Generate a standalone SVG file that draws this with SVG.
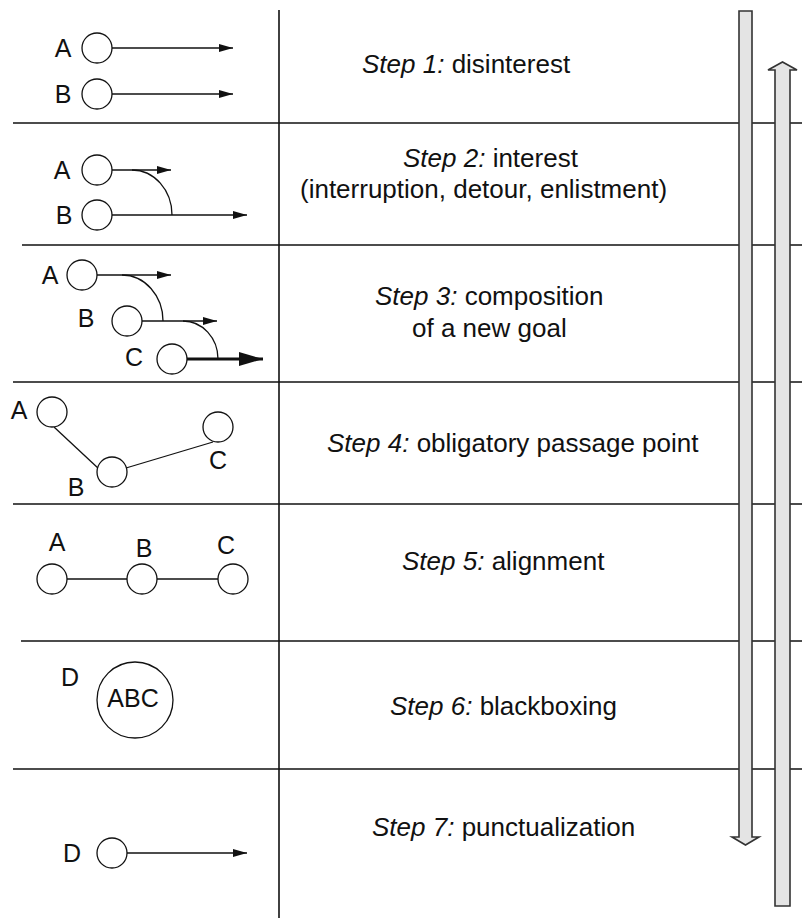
<svg xmlns="http://www.w3.org/2000/svg" width="802" height="918" viewBox="0 0 802 918">
<style>
.rule{stroke:#111;stroke-width:1.6;fill:none}
.ln{stroke:#111;stroke-width:1.3;fill:none}
.arrow{stroke:#111;stroke-width:1.3;fill:none;marker-end:url(#ah)}
.thick{stroke:#111;stroke-width:3;fill:none;marker-end:url(#ahBig)}
.node{fill:#fff;stroke:#111;stroke-width:1.3}
.lbl{font-family:"Liberation Sans",Arial,sans-serif;font-size:25px;fill:#111;text-anchor:middle}
.step{font-family:"Liberation Sans",Arial,sans-serif;font-size:26px;fill:#111}
.it{font-style:italic}
.bar{fill:#e4e4e4;stroke:#333;stroke-width:1.6}
</style>
<defs>
<marker id="ah" markerUnits="userSpaceOnUse" markerWidth="14" markerHeight="8" refX="14" refY="4" orient="auto">
<path d="M0,0 L14,4 L0,8 z" fill="#111"/>
</marker>
<marker id="ahBig" markerUnits="userSpaceOnUse" markerWidth="24" markerHeight="14" refX="24" refY="7" orient="auto">
<path d="M0,0 L24,7 L0,14 z" fill="#111"/>
</marker>
</defs>
<rect width="802" height="918" fill="#fff"/>
<g id="grid">
<line class="rule" x1="279" y1="10" x2="279" y2="918"/>
<line class="rule" x1="13" y1="123" x2="802" y2="123"/>
<line class="rule" x1="22" y1="245" x2="802" y2="245"/>
<line class="rule" x1="13" y1="382" x2="802" y2="382"/>
<line class="rule" x1="13" y1="504" x2="802" y2="504"/>
<line class="rule" x1="21" y1="641" x2="802" y2="641"/>
<line class="rule" x1="13" y1="769" x2="802" y2="769"/>
</g>
<g id="bars">
<path class="bar" d="M739,11 H752 V837 H759 L745.5,845 L732,837 H739 Z"/>
<path class="bar" d="M775,906 V70 H768 L782.5,62 L797,70 H790 V906 Z"/>
</g>
<g id="connectors">
<line class="arrow" x1="112" y1="48" x2="233" y2="48"/>
<line class="arrow" x1="112" y1="94" x2="233" y2="94"/>
<line class="arrow" x1="112" y1="170" x2="171" y2="170"/>
<line class="arrow" x1="112" y1="215" x2="247" y2="215"/>
<path class="ln" d="M132,170 A40,45 0 0 1 172,215"/>
<line class="arrow" x1="97" y1="275" x2="171" y2="275"/>
<path class="ln" d="M122,275 A41,46 0 0 1 163,321"/>
<line class="arrow" x1="142" y1="321" x2="217" y2="321"/>
<path class="ln" d="M183,321 A35,38 0 0 1 218,359"/>
<line class="thick" x1="187" y1="359" x2="263" y2="359"/>
<line class="ln" x1="54" y1="427" x2="99" y2="469"/>
<line class="ln" x1="126" y1="468" x2="213" y2="442"/>
<line class="ln" x1="67" y1="579" x2="127" y2="579"/>
<line class="ln" x1="157" y1="579" x2="218" y2="579"/>
<line class="arrow" x1="127" y1="853" x2="247" y2="853"/>
</g>
<g id="step1">
<circle class="node" cx="97" cy="48" r="15"/>
<circle class="node" cx="97" cy="94" r="15"/>
<text class="lbl" x="63" y="57">A</text>
<text class="lbl" x="63" y="103">B</text>
<text class="step" x="362" y="73"><tspan class="it">Step 1:</tspan> disinterest</text>
</g>
<g id="step2">
<circle class="node" cx="97" cy="170" r="15"/>
<circle class="node" cx="97" cy="215" r="15"/>
<text class="lbl" x="62" y="179">A</text>
<text class="lbl" x="64" y="224">B</text>
<text class="step" x="403" y="167"><tspan class="it">Step 2:</tspan> interest</text>
<text class="step" x="300" y="198">(interruption, detour, enlistment)</text>
</g>
<g id="step3">
<circle class="node" cx="82" cy="275" r="15"/>
<circle class="node" cx="127" cy="321" r="15"/>
<circle class="node" cx="172" cy="359" r="15"/>
<text class="lbl" x="50" y="284">A</text>
<text class="lbl" x="86" y="327">B</text>
<text class="lbl" x="134" y="366">C</text>
<text class="step" x="375" y="305"><tspan class="it">Step 3:</tspan> composition</text>
<text class="step" x="412" y="337">of a new goal</text>
</g>
<g id="step4">
<circle class="node" cx="52" cy="412" r="15"/>
<circle class="node" cx="112" cy="472" r="15"/>
<circle class="node" cx="218" cy="427" r="15"/>
<text class="lbl" x="19" y="419">A</text>
<text class="lbl" x="76" y="496">B</text>
<text class="lbl" x="218" y="469">C</text>
<text class="step" x="327" y="452"><tspan class="it">Step 4:</tspan> obligatory passage point</text>
</g>
<g id="step5">
<circle class="node" cx="52" cy="579" r="15"/>
<circle class="node" cx="142" cy="579" r="15"/>
<circle class="node" cx="233" cy="579" r="15"/>
<text class="lbl" x="57" y="551">A</text>
<text class="lbl" x="144" y="557">B</text>
<text class="lbl" x="226" y="554">C</text>
<text class="step" x="402" y="570"><tspan class="it">Step 5:</tspan> alignment</text>
</g>
<g id="step6">
<circle class="node" cx="135" cy="700" r="38"/>
<text class="lbl" x="133" y="707">ABC</text>
<text class="lbl" x="70" y="686">D</text>
<text class="step" x="390" y="715"><tspan class="it">Step 6:</tspan> blackboxing</text>
</g>
<g id="step7">
<circle class="node" cx="112" cy="853" r="15"/>
<text class="lbl" x="72" y="862">D</text>
<text class="step" x="372" y="836"><tspan class="it">Step 7:</tspan> punctualization</text>
</g>
</svg>
